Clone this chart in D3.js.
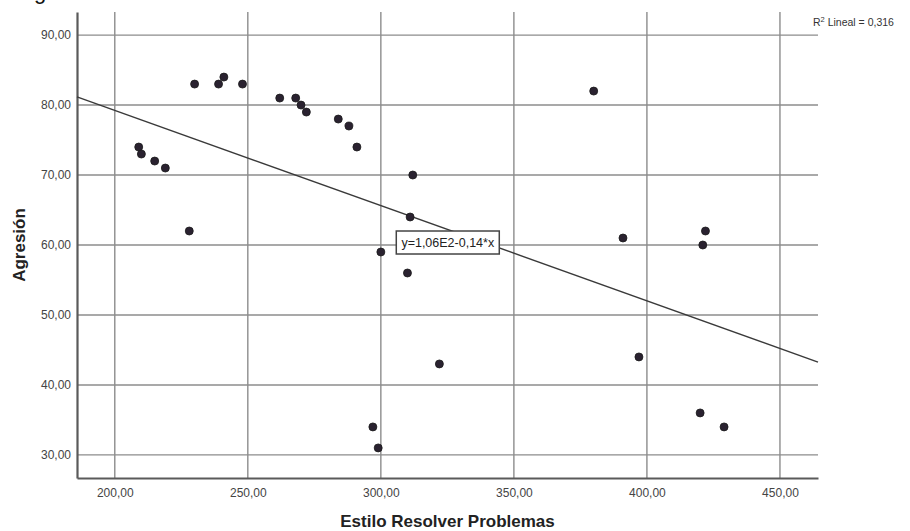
<!DOCTYPE html>
<html>
<head>
<meta charset="utf-8">
<script src="https://cdn.jsdelivr.net/npm/d3@7"></script>
<style>
  html, body { margin: 0; padding: 0; background: #fff; }
  svg { display: block; }
</style>
</head>
<body>
<div id="chart"></div>
<script>
// data
const estiloResolver = [209, 210, 215, 219, 228, 230, 239, 241, 248, 262, 268, 270, 272, 284, 288, 291,
                        297, 299, 300, 310, 311, 312, 322, 380, 391, 397, 420, 421, 422, 429];
const agresion       = [74, 73, 72, 71, 62, 83, 83, 84, 83, 81, 81, 80, 79, 78, 77, 74,
                        34, 31, 59, 56, 64, 70, 43, 82, 61, 44, 36, 60, 62, 34];
const xTicks = [200, 250, 300, 350, 400, 450];
const yTicks = [30, 40, 50, 60, 70, 80, 90];
const xTitle = "Estilo Resolver Problemas";
const yTitle = "Agresión";
const fitLabel = "y=1,06E2-0,14*x";
const r2Label = "0,316";

const width = 910, height = 531;
const font = "'Liberation Sans', Arial, sans-serif";

const svg = d3.select("#chart").append("svg")
    .attr("width", width)
    .attr("height", height)
    .attr("viewBox", `0 0 ${width} ${height}`);

// escalas
const x = d3.scaleLinear().domain([185.8, 464.3]).range([77, 818]);
const y = d3.scaleLinear().domain([26.7, 93.3]).range([478, 12]);

const esLocale = d3.formatLocale({ decimal: ",", thousands: ".", grouping: [3], currency: ["", "€"] });
const fmt = esLocale.format(".2f");

// recorte de texto de la página anterior (arriba a la izquierda)
svg.append("text")
    .attr("x", 34).attr("y", -1)
    .style("font-family", font).style("font-size", "22px")
    .attr("fill", "#111")
    .text("g");

// rejilla
const grid = svg.append("g").attr("stroke", "#8c8c8c").attr("stroke-width", 1.4);
grid.selectAll(".hx").data(yTicks).join("line")
    .attr("x1", x.range()[0]).attr("x2", x.range()[1])
    .attr("y1", d => y(d)).attr("y2", d => y(d));
grid.selectAll(".vx").data(xTicks).join("line")
    .attr("x1", d => x(d)).attr("x2", d => x(d))
    .attr("y1", y.range()[1]).attr("y2", y.range()[0]);

// ejes
const xAxis = svg.append("g")
    .attr("transform", `translate(0,${y.range()[0]})`)
    .call(d3.axisBottom(x).tickValues(xTicks).tickFormat(fmt).tickSize(0).tickPadding(10));
const yAxis = svg.append("g")
    .attr("transform", `translate(${x.range()[0]},0)`)
    .call(d3.axisLeft(y).tickValues(yTicks).tickFormat(fmt).tickSize(0).tickPadding(6));

[xAxis, yAxis].forEach(a => {
    a.select(".domain").attr("stroke", "#5a5a5a").attr("stroke-width", 2.2);
    a.selectAll("text")
        .style("font-family", font)
        .style("font-size", "12px")
        .attr("fill", "#444");
});

// línea de ajuste (mínimos cuadrados sobre los datos)
const mx = d3.mean(estiloResolver), my = d3.mean(agresion);
const sxy = d3.sum(estiloResolver, (v, i) => (v - mx) * (agresion[i] - my));
const sxx = d3.sum(estiloResolver, v => (v - mx) * (v - mx));
const slope = sxy / sxx, intercept = my - slope * mx;
const xd = x.domain();
svg.append("line")
    .attr("x1", x(xd[0])).attr("y1", y(intercept + slope * xd[0]))
    .attr("x2", x(xd[1])).attr("y2", y(intercept + slope * xd[1]))
    .attr("stroke", "#3a3a3a")
    .attr("stroke-width", 1.4);

// puntos
svg.append("g").selectAll("circle")
    .data(estiloResolver.map((v, i) => ({ x: v, y: agresion[i] })))
    .join("circle")
    .attr("cx", d => x(d.x))
    .attr("cy", d => y(d.y))
    .attr("r", 4)
    .attr("fill", "#2a2230")
    .attr("stroke", "#1a1a1a")
    .attr("stroke-width", 0.8);

// etiqueta de la ecuación
const lab = svg.append("g")
    .attr("transform", `translate(${x(305.8)},${y(62.0)})`);
lab.append("rect")
    .attr("width", 103).attr("height", 23)
    .attr("fill", "#fff")
    .attr("stroke", "#444")
    .attr("stroke-width", 1.5);
lab.append("text")
    .attr("x", 51.5).attr("y", 16)
    .attr("text-anchor", "middle")
    .style("font-family", font).style("font-size", "12.5px")
    .attr("fill", "#222")
    .text(fitLabel);

// R² Lineal
const r2 = svg.append("text")
    .attr("x", 813).attr("y", 26)
    .style("font-family", font).style("font-size", "10.5px")
    .attr("fill", "#333");
r2.append("tspan").text("R");
r2.append("tspan").attr("dy", -4).style("font-size", "7.5px").text("2");
r2.append("tspan").attr("dy", 4).text(" Lineal = " + r2Label);

// títulos de los ejes
svg.append("text")
    .attr("x", (x.range()[0] + x.range()[1]) / 2)
    .attr("y", 527)
    .attr("text-anchor", "middle")
    .style("font-family", font).style("font-size", "17px").style("font-weight", "bold")
    .attr("fill", "#222")
    .text(xTitle);

svg.append("text")
    .attr("transform", `translate(25,${(y.range()[0] + y.range()[1]) / 2}) rotate(-90)`)
    .attr("text-anchor", "middle")
    .style("font-family", font).style("font-size", "17px").style("font-weight", "bold")
    .attr("fill", "#222")
    .text(yTitle);
</script>
</body>
</html>
